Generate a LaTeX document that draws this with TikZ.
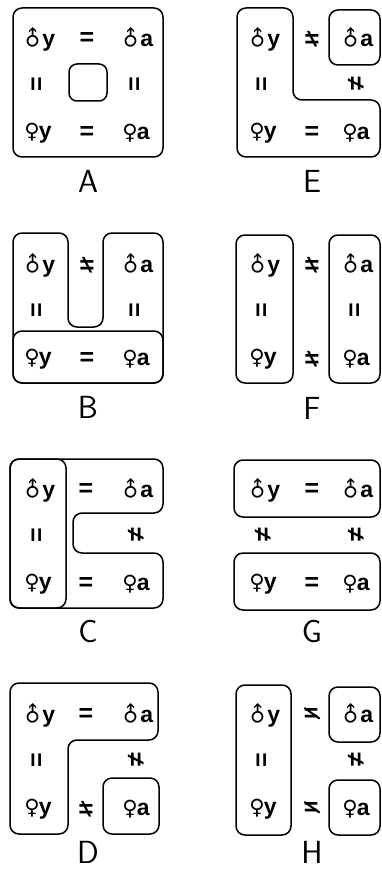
\documentclass[tikz,border=0pt]{standalone}
\usepackage{graphicx}
\usepackage{fontspec}
\newfontfamily\symfont{DejaVu Sans}
\newfontfamily\lettfont{Liberation Sans}
\newcommand\male{\rotatebox[origin=c]{45}{\fontsize{21}{24}\symfont ♂}\kern-2.5pt}
\newcommand\female{{\fontsize{21}{24}\symfont ♀}\kern-1pt}
\newcommand\lett[1]{{\lettfont\bfseries #1}}
\newcommand\heq{{\lettfont\bfseries =}}
\newcommand\veq{\rotatebox{90}{\heq}}
\newcommand\hne{\reflectbox{\lettfont\bfseries ≠}}
\newcommand\vne{\rotatebox{90}{\lettfont\bfseries ≠}}
\newcommand\hnx{\ooalign{\heq\cr\hfil\raisebox{0.33em}{\rotatebox[origin=c]{-35}{\rule[-0.04em]{0.75em}{0.08em}}}\hfil\cr}}

\begin{document}
\begin{tikzpicture}[
  x=1pt, y=-1pt,
  pbox/.style={draw=black, line width=1.5pt, rounded corners=9pt},
  entry/.style={inner sep=0pt, font=\fontsize{23}{26}\selectfont},
  rel/.style={inner sep=0pt, font=\fontsize{25}{28}\selectfont},
  tag/.style={inner sep=0pt, font=\fontsize{32}{36}\selectfont\sffamily}
]
  \useasboundingbox (0,0) rectangle (382,869);

  % the four entries of every panel
  \foreach \p/\xa/\xb/\yt in {A/38/136/8, B/38/136/234, C/38/136/459, D/38/136/684,
                              E/263/356/8, F/263/356/234, G/263/356/459, H/263/356/684} {
    \node[entry] (my\p) at (\xa,{\yt+31}) {\male\lett{y}};
    \node[entry] (ma\p) at (\xb,{\yt+31}) {\male\lett{a}};
    \node[entry] (fy\p) at (\xa,{\yt+125}) {\female\lett{y}};
    \node[entry] (fa\p) at (\xb,{\yt+125}) {\female\lett{a}};
  }

  \foreach \p/\lx/\ly in {A/88/181, B/88/407, C/88/632, D/88/852,
                          E/312/181, F/312/408, G/312/632, H/312/852}
    \node[tag] (lab\p) at (\lx,\ly) {\p};

  % A
  \node[rel] (topA) at (87,39) {\heq};
  \node[rel] (botA) at (87,133) {\heq};
  \node[rel] (lftA) at (38,84) {\veq};
  \node[rel] (rgtA) at (136,84) {\veq};
  \draw[pbox] (13,8) rectangle (163,157);
  \draw[pbox, rounded corners=8pt] (69,64) rectangle (107,101);

  % B
  \node[rel] (topB) at (87,265) {\hne};
  \node[rel] (botB) at (87,359) {\heq};
  \node[rel] (lftB) at (38,310) {\veq};
  \node[rel] (rgtB) at (136,310) {\veq};
  \draw[pbox] (13,383) -- (13,233) -- (68,233) -- (68,327) -- (103,327)
    -- (103,233) -- (163,233) -- (163,383) -- cycle;
  \draw[pbox] (13,331) rectangle (163,383);

  % C
  \node[rel] (topC) at (86,490) {\heq};
  \node[rel] (botC) at (86,584) {\heq};
  \node[rel] (lftC) at (38,535) {\veq};
  \node[rel] (rgtC) at (136,535) {\vne};
  \draw[pbox] (10,459) -- (163,459) -- (163,513) -- (73,513) -- (73,553)
    -- (163,553) -- (163,608) -- (10,608) -- cycle;
  \draw[pbox] (10,459) rectangle (66,608);

  % D
  \node[rel] (topD) at (86,715) {\heq};
  \node[rel] (botD) at (86,809) {\hne};
  \node[rel] (lftD) at (38,760) {\veq};
  \node[rel] (rgtD) at (136,760) {\vne};
  \draw[pbox] (10,834) -- (10,683) -- (158,683) -- (158,740) -- (68,740)
    -- (68,834) -- cycle;
  \draw[pbox] (103,778) rectangle (159,834);

  % E
  \node[rel] (topE) at (312,39) {\hne};
  \node[rel] (botE) at (312,133) {\heq};
  \node[rel] (lftE) at (263,84) {\veq};
  \node[rel] (rgtE) at (356,84) {\vne};
  \draw[pbox] (237,8) -- (293,8) -- (293,100) -- (380,100) -- (380,157)
    -- (237,157) -- cycle;
  \draw[pbox] (329,10) rectangle (380,65);

  % F
  \node[rel] (topF) at (312,265) {\hne};
  \node[rel] (botF) at (312,359) {\hne};
  \node[rel] (lftF) at (263,310) {\veq};
  \node[rel] (rgtF) at (356,310) {\veq};
  \draw[pbox] (236,235) rectangle (293,383);
  \draw[pbox] (329,235) rectangle (380,383);

  % G
  \node[rel] (topG) at (312,490) {\heq};
  \node[rel] (botG) at (312,584) {\heq};
  \node[rel] (lftG) at (263,535) {\vne};
  \node[rel] (rgtG) at (356,535) {\vne};
  \draw[pbox] (234,460) rectangle (380,517);
  \draw[pbox] (234,553) rectangle (380,610);

  % H
  \node[rel] (topH) at (312,715) {\hnx};
  \node[rel] (botH) at (312,809) {\hnx};
  \node[rel] (lftH) at (263,760) {\veq};
  \node[rel] (rgtH) at (356,760) {\vne};
  \draw[pbox] (236,685) rectangle (291,835);
  \draw[pbox] (329,687) rectangle (380,742);
  \draw[pbox] (329,780) rectangle (380,835);
\end{tikzpicture}
\end{document}
